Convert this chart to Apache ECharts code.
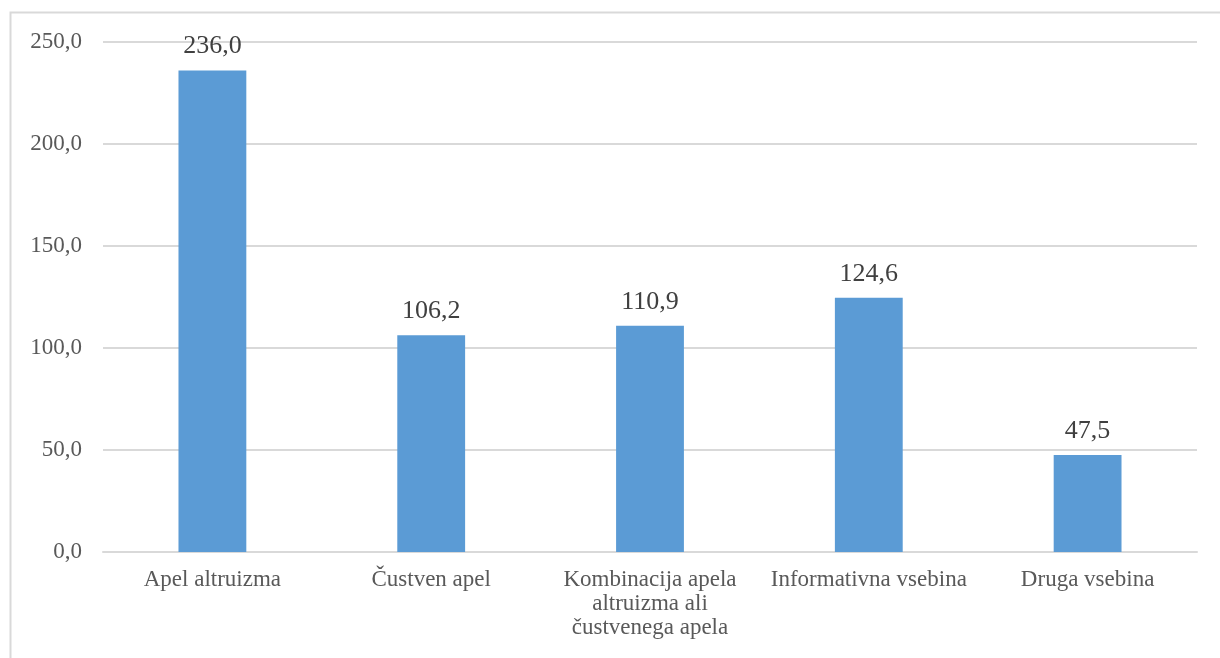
<!DOCTYPE html>
<html>
<head>
<meta charset="utf-8">
<script src="https://cdn.jsdelivr.net/npm/echarts@6/dist/echarts.min.js"></script>
<style>
  html, body { margin: 0; padding: 0; background: #ffffff; }
  #chart { width: 1220px; height: 658px; }
</style>
</head>
<body>
<div id="chart"></div>
<script>
// Categories and values
const categories = [
  'Apel altruizma',
  'Čustven apel',
  'Kombinacija apela\naltruizma ali\nčustvenega apela',
  'Informativna vsebina',
  'Druga vsebina'
];
const values = [236.0, 106.2, 110.9, 124.6, 47.5];

const yMin = 0;
const yMax = 250;
const yStep = 50;

const fmt = v => v.toFixed(1).replace('.', ',');
const serif = '"Liberation Serif", "Times New Roman", serif';

const chart = echarts.init(document.getElementById('chart'), null, { renderer: 'canvas' });

chart.setOption({
  backgroundColor: '#ffffff',
  animation: false,
  graphic: [{
    type: 'rect',
    shape: { x: 10.5, y: 12.5, width: 1230, height: 670 },
    style: { fill: 'none', stroke: '#d9d9d9', lineWidth: 2 },
    silent: true
  }],
  grid: { left: 103, right: 23, top: 42, bottom: 106 },
  xAxis: {
    type: 'category',
    data: categories,
    axisLine: { show: true, lineStyle: { color: '#d9d9d9', width: 2 } },
    axisTick: { show: false },
    axisLabel: {
      color: '#595959',
      fontFamily: serif,
      fontSize: 23,
      lineHeight: 24,
      margin: 16,
      interval: 0
    }
  },
  yAxis: {
    type: 'value',
    min: yMin,
    max: yMax,
    interval: yStep,
    axisLine: { show: false },
    axisTick: { show: false },
    splitLine: { lineStyle: { color: '#d9d9d9', width: 2 } },
    axisLabel: {
      color: '#595959',
      fontFamily: serif,
      fontSize: 23,
      margin: 21,
      formatter: v => fmt(v)
    }
  },
  series: [{
    type: 'bar',
    data: values,
    barWidth: '31%',
    itemStyle: { color: '#5b9bd5' },
    label: {
      show: true,
      position: 'top',
      distance: 11,
      color: '#404040',
      fontFamily: serif,
      fontSize: 26,
      formatter: p => fmt(p.value)
    }
  }]
});
</script>
</body>
</html>
